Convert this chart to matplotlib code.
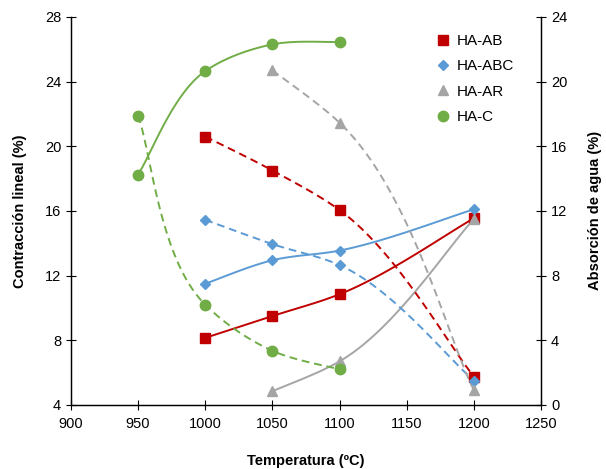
import matplotlib.pyplot as plt
import numpy as np

plt.rcParams['font.family'] = ['Liberation Sans', 'DejaVu Sans']

# temperatures (ºC)
temp = [950, 1000, 1050, 1100, 1200]

# contraccion lineal (%) - left axis, solid lines
contr_ab = [None, 8.15, 9.5, 10.85, 15.55]
contr_abc = [None, 11.5, 12.95, 13.55, 16.1]
contr_ar = [None, None, 4.85, 6.7, 15.5]
contr_c = [18.25, 24.65, 26.3, 26.45, None]

# absorcion de agua (%) - right axis, dashed lines
abs_ab = [None, 16.6, 14.5, 12.05, 1.75]
abs_abc = [None, 11.45, 9.95, 8.65, 1.5]
abs_ar = [None, None, 20.7, 17.45, 0.9]
abs_c = [17.9, 6.2, 3.35, 2.2, None]

labels = ['HA-AB', 'HA-ABC', 'HA-AR', 'HA-C']
colors = ['#C00000', '#5B9BD5', '#A5A5A5', '#70AD47']
markers = ['s', 'D', '^', 'o']
msizes = [7, 5.5, 7.5, 7.5]


def smooth(xs, ys, xlim, ylim, n=40):
    # smoothed line through the points (bezier, bessel tangents in screen space,
    # chord direction at the two ends)
    W, H = 470, 388
    px = (np.array(xs, float) - xlim[0]) / (xlim[1] - xlim[0]) * W
    py = (np.array(ys, float) - ylim[0]) / (ylim[1] - ylim[0]) * H
    P = np.column_stack([px, py])
    k = len(P)
    d = np.linalg.norm(np.diff(P, axis=0), axis=1)
    u = np.diff(P, axis=0) / d[:, None]
    T = np.zeros_like(P)
    for i in range(1, k - 1):
        T[i] = (d[i] * u[i - 1] + d[i - 1] * u[i]) / (d[i - 1] + d[i])
    T[0] = u[0]
    T[-1] = u[-1]
    out = [P[0]]
    t = np.linspace(0, 1, n)[1:, None]
    for i in range(k - 1):
        p1, p2 = P[i], P[i + 1]
        a1 = d[i] / 3 if i > 0 else d[i] / 5
        a2 = d[i] / 3 if i < k - 2 else d[i] / 5
        c1 = p1 + T[i] * a1
        c2 = p2 - T[i + 1] * a2
        seg = (1 - t) ** 3 * p1 + 3 * (1 - t) ** 2 * t * c1 + 3 * (1 - t) * t ** 2 * c2 + t ** 3 * p2
        out.extend(seg)
    out = np.array(out)
    return (out[:, 0] / W * (xlim[1] - xlim[0]) + xlim[0],
            out[:, 1] / H * (ylim[1] - ylim[0]) + ylim[0])


fig = plt.figure(figsize=(6.06, 4.69), dpi=100)
ax = fig.add_axes([0.117, 0.1365, 0.776, 0.8275])
ax2 = ax.twinx()

xl = (900, 1250)
yl1 = (4, 28)
yl2 = (0, 24)

handles = []
for ser, axis, yl, ls in [([contr_ab, contr_abc, contr_ar, contr_c], ax, yl1, '-'),
                          ([abs_ab, abs_abc, abs_ar, abs_c], ax2, yl2, (0, (4, 2.5)))]:
    for vals, lab, c, m, ms in zip(ser, labels, colors, markers, msizes):
        xs = [t for t, v in zip(temp, vals) if v is not None]
        ys = [v for v in vals if v is not None]
        sx, sy = smooth(xs, ys, xl, yl)
        axis.plot(sx, sy, color=c, lw=1.4, ls=ls, zorder=2)
        h, = axis.plot(xs, ys, ls='none', marker=m, ms=ms, color=c, zorder=3, label=lab)
        if axis is ax:
            handles.append(h)

ax.set_xlim(xl)
ax.set_ylim(yl1)
ax2.set_ylim(yl2)
ax.set_xticks(np.arange(900, 1251, 50))
ax.set_yticks(np.arange(4, 29, 4))
ax2.set_yticks(np.arange(0, 25, 4))

for a in (ax, ax2):
    a.spines['top'].set_visible(False)
    a.tick_params(direction='inout', length=7, width=0.8, labelsize=10.5)
    for sp in a.spines.values():
        sp.set_linewidth(0.9)
ax.tick_params(axis='y', right=False)
ax.tick_params(axis='x', pad=5)

ax.set_xlabel('Temperatura (ºC)', fontsize=10.5, fontweight='bold', labelpad=17)
ax.set_ylabel('Contracción lineal (%)', fontsize=10.5, fontweight='bold', labelpad=13)
ax2.set_ylabel('Absorción de agua (%)', fontsize=10.5, fontweight='bold', labelpad=15)

ax2.legend(handles=handles, loc='upper left', bbox_to_anchor=(0.765, 0.972), frameon=False,
           fontsize=11, handlelength=0.8, handletextpad=0.5, labelspacing=0.75, borderaxespad=0)

fig.savefig('out.png', dpi=100)
